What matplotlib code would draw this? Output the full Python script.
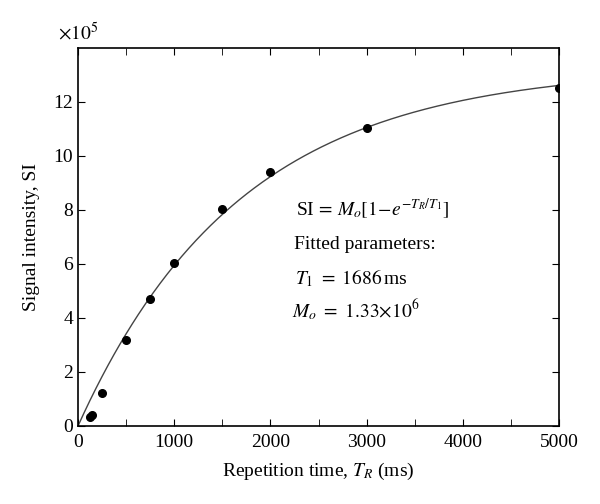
import numpy as np
import matplotlib
matplotlib.use("Agg")
import matplotlib.pyplot as plt
from matplotlib.ticker import MultipleLocator

plt.rcParams['font.family'] = ['Liberation Serif', 'DejaVu Serif']
plt.rcParams['mathtext.fontset'] = 'stix'

# measured points (signal in units of 1e5)
tr = [120, 150, 250, 500, 750, 1000, 1500, 2000, 3000, 5000]
si = [0.33, 0.41, 1.23, 3.2, 4.72, 6.05, 8.05, 9.42, 11.05, 12.52]

# fitted parameters shown on the chart
T1 = 1686
Mo = 13.3

t_fit = np.linspace(0, 5000, 400)
si_fit = Mo * (1 - np.exp(-t_fit / T1))

fig = plt.figure(figsize=(6, 5.04), dpi=100)
ax = fig.add_axes([0.13, 0.1548, 0.802, 0.75])

ax.plot(t_fit, si_fit, color='#444444', linewidth=1.0)
ax.plot(tr, si, 'o', color='black', markersize=5.5)

ax.set_xlim(0, 5000)
ax.set_ylim(0, 14)
ax.xaxis.set_major_locator(MultipleLocator(1000))
ax.xaxis.set_minor_locator(MultipleLocator(500))
ax.yaxis.set_major_locator(MultipleLocator(2))
ax.tick_params(which='both', direction='in', top=True, right=True, labelsize=14)
ax.tick_params(which='both', length=5)
ax.tick_params(axis='x', pad=6)
ax.set_yticks([0, 2, 4, 6, 8, 10, 12])

ax.set_xlabel('Repetition time, $T_R$ (ms)', fontsize=14, labelpad=7)
ax.set_ylabel('Signal intensity, SI', fontsize=14, labelpad=10)
ax.text(-0.042, 1.02, r'$\times 10^5$', transform=ax.transAxes, fontsize=14)

ax.text(2260, 7.8, r'SI$\,=\,M_o[1\!-\!e^{-T_R/T_1}]$', fontsize=14)
ax.text(2240, 6.55, 'Fitted parameters:', fontsize=14)
ax.text(2250, 5.25, r'$T_1\ =\ 1686\,$ms', fontsize=14)
ax.text(2220, 4.0, r'$M_o\ =\ 1.33{\times}10^6$', fontsize=14)

for s in ax.spines.values():
    s.set_linewidth(1.2)

fig.savefig('out.png', dpi=100)
